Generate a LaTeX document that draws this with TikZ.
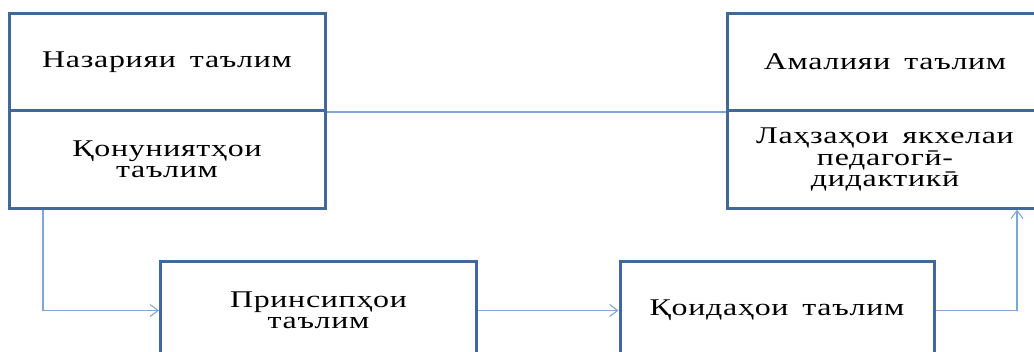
\documentclass[tikz,border=0pt]{standalone}
\usepackage{fontspec}
\setmainfont{Liberation Serif}[FakeStretch=1.33,LetterSpace=3,WordSpace=1.6]
\usetikzlibrary{arrows.meta}
\definecolor{boxblue}{HTML}{41679B}
\definecolor{linkblue}{HTML}{7EA6DA}
\tikzset{
  box/.style={draw=boxblue,line width=2.25pt,rectangle,align=center,inner sep=0pt,
    minimum width=237pt,minimum height=73pt,font=\fontsize{18}{16}\selectfont},
  conn/.style={draw=linkblue,line width=0.8pt},
  arr/.style={conn,-{Straight Barb[length=6pt,width=9pt,line width=0.8pt]}}
}
\begin{document}
\begin{tikzpicture}[x=0.75pt,y=-0.75pt]
\useasboundingbox (0,0) rectangle (1034,352);
\clip (0,0) rectangle (1034,352);
% connector between groups
\coordinate (ga) at (325,112);
\coordinate (gb) at (727,112);
\draw[conn] (ga) -- (gb);
\node[box] (l1) at (167,62) {Назарияи таълим};
\node[box] (l2) at (167,159.5) {Қонуниятҳои\\таълим};
\node[box] (r1) at (885,62) {Амалияи таълим};
\node[box] (r2) at (885,159.5) {Лаҳзаҳои якхелаи\\педагогӣ-\\дидактикӣ};
\node[box] (p) at (318.5,310.5) {Принсипҳои\\таълим};
\node[box,minimum width=235.5pt] (q) at (777,310.5) {Қоидаҳои таълим};
\coordinate (c1) at (43,310.5);
\coordinate (c2) at (1017,310.5);
\draw[arr] (l2.south -| c1) -- (c1) -- (p.west);
\draw[arr] (p.east) -- (q.west);
\draw[arr] (q.east) -- (c2) -- (c2 |- r2.south);
\end{tikzpicture}
\end{document}
